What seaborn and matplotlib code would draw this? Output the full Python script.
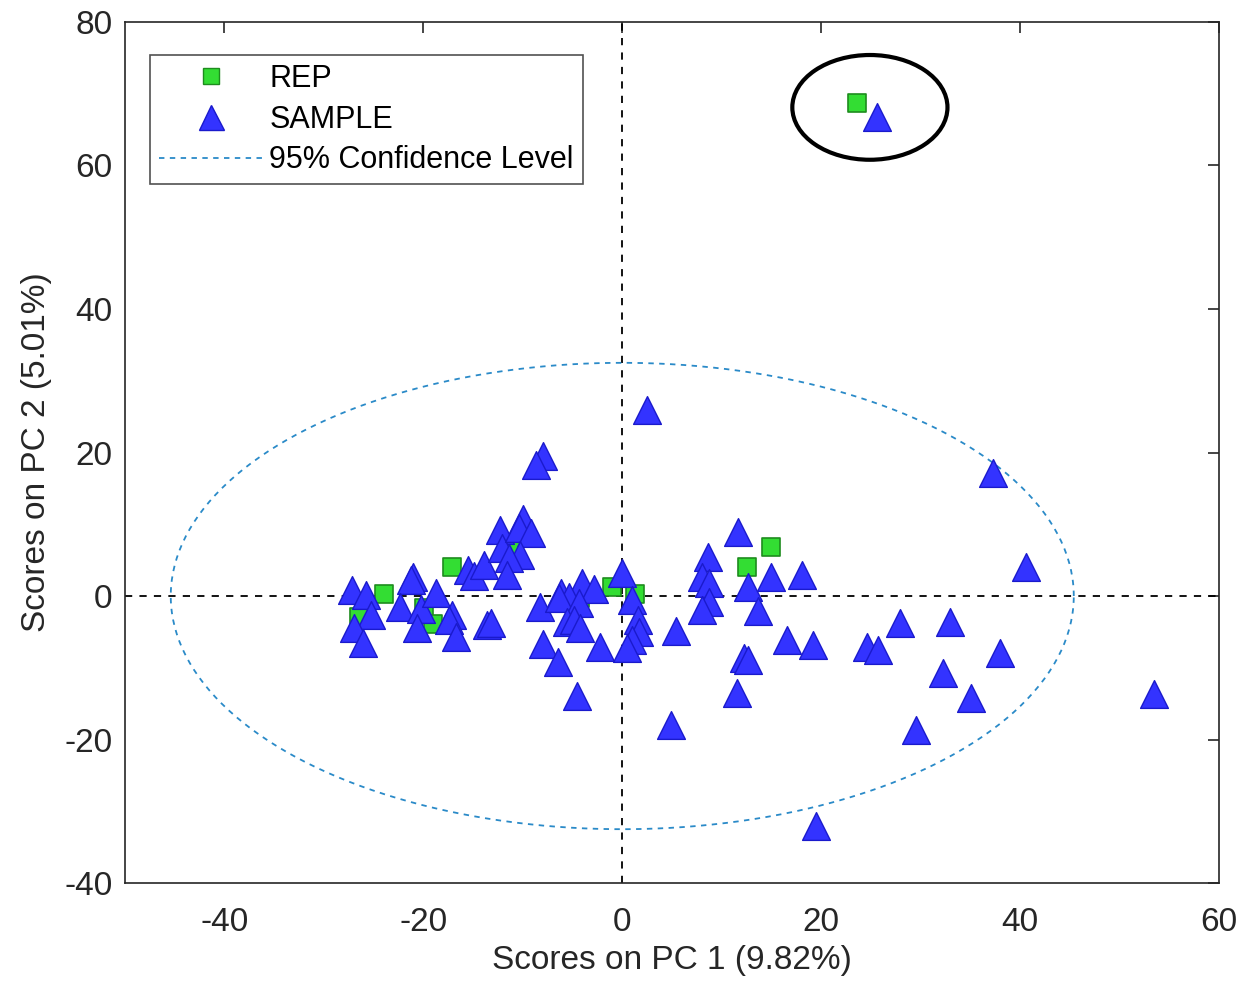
"""PCA scores plot: PC1 vs PC2 with 95% confidence ellipse."""

import numpy as np
import pandas as pd
import matplotlib
matplotlib.use("Agg")
import matplotlib.pyplot as plt
from matplotlib.patches import Ellipse
from matplotlib.lines import Line2D
import seaborn as sns

# REP scores (PC1, PC2)
rep_x = [-24.0, -17.1, -26.5, -19.9, -19.0, -11.0, -4.2, -1.0, 1.3, 12.5, 15.0, 23.6]
rep_y = [0.3, 4.0, -2.9, -1.7, -3.9, 7.1, -0.3, 1.3, 0.3, 4.0, 6.8, 68.7]

# SAMPLE scores (PC1, PC2)
sample_x = [-27.2, -25.8, -25.3, -27.0, -26.1, -21.0, -21.2, -22.3, -20.2, -18.7,
            -20.6, -17.1, -17.4, -16.7, -15.5, -14.9, -13.9, -13.6, -13.2, -12.3,
            -12.1, -10.0, -10.4, -9.2, -10.3, -11.4, -11.6, -8.0, -8.7, -8.3,
            -8.0, -6.5, -4.6, -4.0, -2.8, -6.2, -5.4, -6.4, -4.4, -5.6,
            -4.9, -4.2, -2.2, 0.0, 1.0, 1.6, 1.7, 1.0, 0.5, 2.5,
            5.4, 4.9, 8.6, 8.0, 8.7, 8.7, 8.0, 11.6, 12.6, 15.0,
            18.1, 13.6, 16.6, 19.2, 12.2, 12.6, 11.5, 19.5, 24.6, 25.7,
            27.9, 33.0, 38.0, 32.2, 35.1, 29.5, 37.3, 40.6, 53.5, 25.6]
sample_y = [0.8, 0.1, -2.6, -4.5, -6.6, 2.7, 2.2, -1.5, -1.8, 0.4,
            -4.5, -2.6, -3.3, -5.7, 3.6, 2.8, 4.3, -4.0, -3.8, 9.2,
            6.7, 10.8, 9.5, 8.8, 5.7, 5.3, 2.9, 19.5, 18.2, -1.6,
            -6.7, -9.2, -13.9, 1.8, 1.0, 0.4, -0.1, -0.3, -1.0, -3.6,
            -3.3, -4.5, -7.1, 3.2, -0.6, -3.3, -5.0, -6.1, -7.3, 25.9,
            -4.9, -18.0, 5.4, 2.6, 1.8, -0.8, -2.0, 8.9, 1.3, 2.6,
            2.9, -2.1, -6.1, -6.8, -8.6, -8.9, -13.5, -32.1, -7.1, -7.5,
            -3.8, -3.6, -7.9, -10.7, -14.2, -18.7, 17.1, 4.0, -13.7, 66.8]

# 95% confidence ellipse semi-axes and highlight ellipse around the outlier pair
conf_a, conf_b = 45.4, 32.5
highlight_center = (24.9, 68.1)
highlight_w, highlight_h = 15.6, 14.6

x_ticks = [-40, -20, 0, 20, 40, 60]
y_ticks = [-40, -20, 0, 20, 40, 60, 80]

sns.set_style("white")
plt.rcParams["font.family"] = ["Liberation Sans", "DejaVu Sans"]
plt.rcParams["axes.unicode_minus"] = False

text_color = "#262626"

df_rep = pd.DataFrame({"pc1": rep_x, "pc2": rep_y})
df_sample = pd.DataFrame({"pc1": sample_x, "pc2": sample_y})

fig = plt.figure(figsize=(12.45, 9.82), dpi=100)
ax = fig.add_axes([0.1004, 0.1008, 0.8787, 0.8768])

# reference lines through origin
ax.axhline(0, color="black", linestyle=(0, (4, 4)), linewidth=1.3, zorder=1)
ax.axvline(0, color="black", linestyle=(0, (4, 4)), linewidth=1.3, zorder=1)

# confidence ellipse
t = np.linspace(0, 2 * np.pi, 400)
ax.plot(conf_a * np.cos(t), conf_b * np.sin(t), color="#2a8ac8",
        linestyle=(0, (3, 3)), linewidth=1.3, zorder=1)

sns.scatterplot(data=df_rep, x="pc1", y="pc2", ax=ax, marker="s", s=150,
                color="#33dd33", edgecolor="#1e8c1e", linewidth=1.2, zorder=3)
sns.scatterplot(data=df_sample, x="pc1", y="pc2", ax=ax, marker="^", s=400,
                color="#3333ff", edgecolor="#1a1acc", linewidth=1.0, zorder=4)

ax.add_patch(Ellipse(highlight_center, highlight_w, highlight_h, fill=False,
                     edgecolor="black", linewidth=3, zorder=5))

ax.set_xlim(-50, 60)
ax.set_ylim(-40, 80)
ax.set_xticks(x_ticks)
ax.set_yticks(y_ticks)
ax.tick_params(direction="in", length=8, width=1.2, top=True, right=True,
               labelsize=24, colors=text_color)
ax.tick_params(axis="x", pad=17)
ax.tick_params(axis="y", pad=9)
for spine in ax.spines.values():
    spine.set_color(text_color)
    spine.set_linewidth(1.2)

ax.set_xlabel("Scores on PC 1 (9.82%)", fontsize=24, color=text_color, labelpad=5)
ax.set_ylabel("Scores on PC 2 (5.01%)", fontsize=24, color=text_color, labelpad=9)

handles = [
    Line2D([], [], linestyle="none", marker="s", markersize=11,
           markerfacecolor="#33dd33", markeredgecolor="#1e8c1e"),
    Line2D([], [], linestyle="none", marker="^", markersize=18,
           markerfacecolor="#3333ff", markeredgecolor="#1a1acc"),
    Line2D([], [], color="#2a8ac8", linestyle=(0, (3, 3)), linewidth=1.3),
]
leg = ax.legend(handles, ["REP", "SAMPLE", "95% Confidence Level"],
                loc="upper left", bbox_to_anchor=(0.023, 0.962), fontsize=22,
                frameon=True, fancybox=False, edgecolor=text_color,
                handlelength=3.4, handletextpad=0.2, labelspacing=0.35,
                borderpad=0.3, borderaxespad=0)
leg.get_frame().set_linewidth(1.2)
for txt in leg.get_texts():
    txt.set_color("black")

fig.savefig("out.png", dpi=100)
